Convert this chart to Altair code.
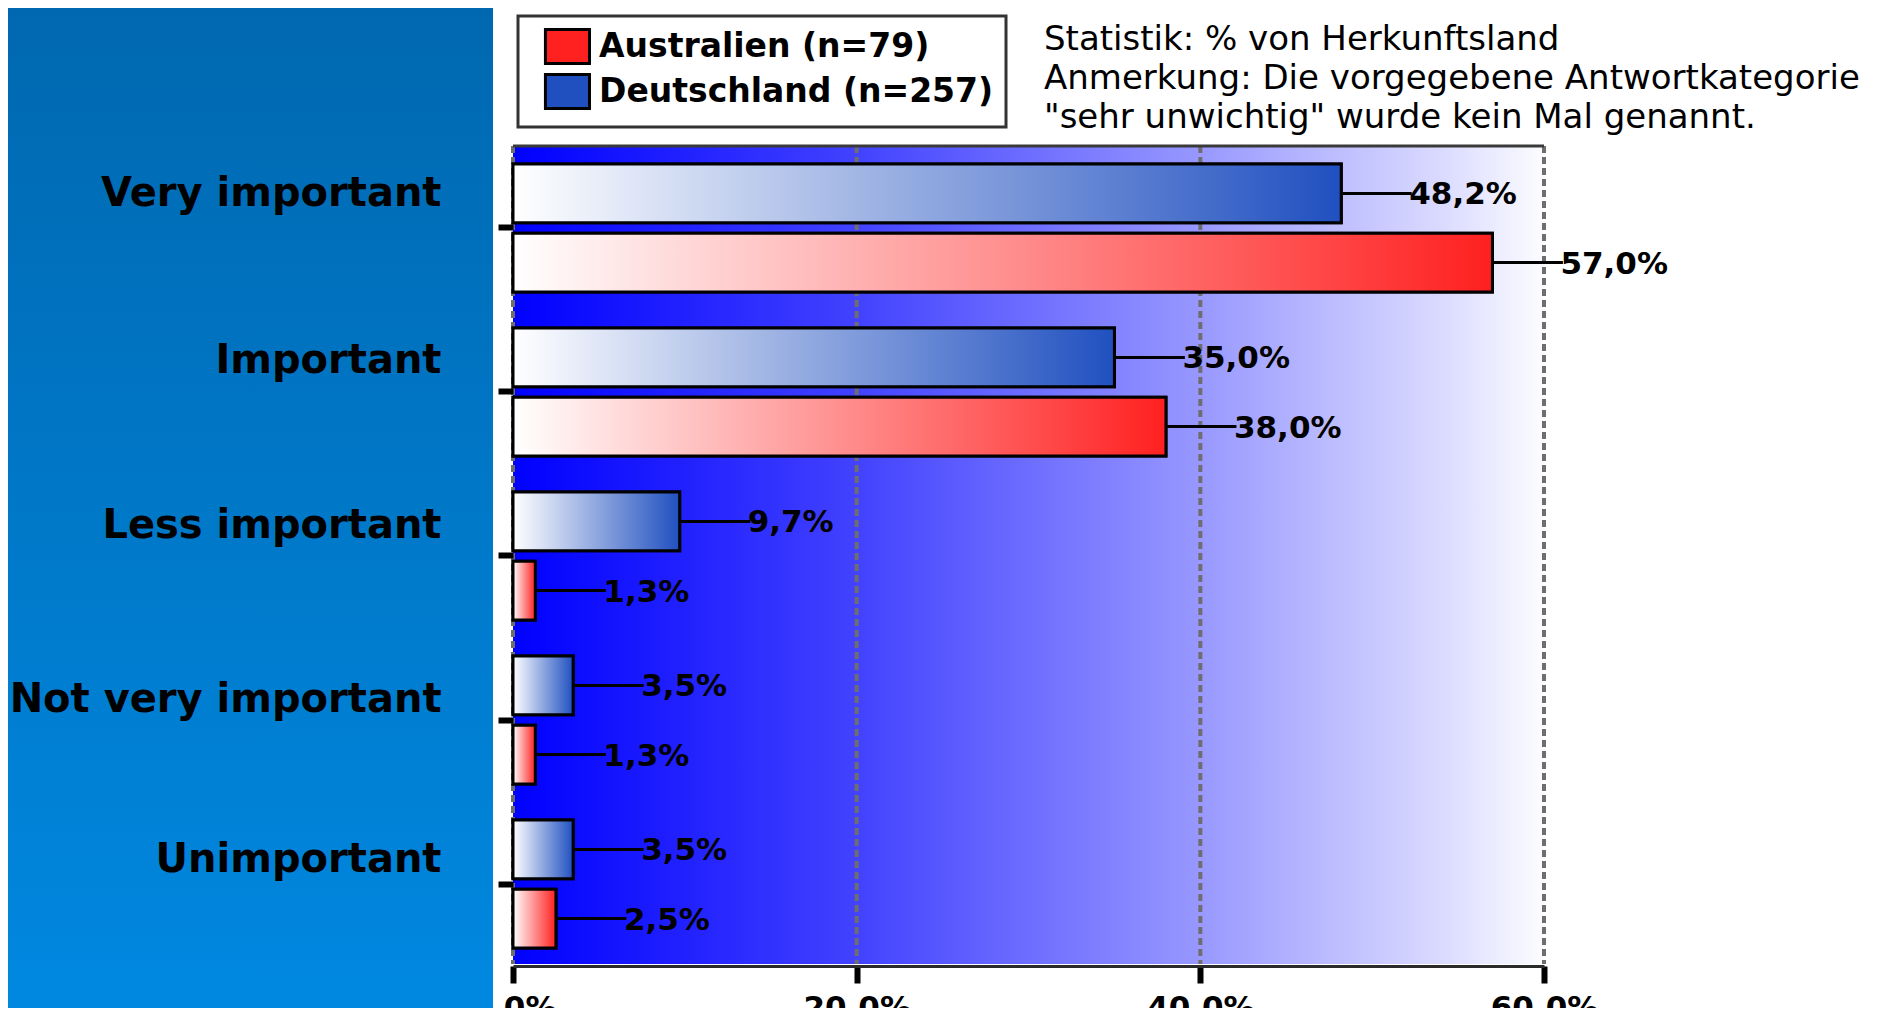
import altair as alt
import pandas as pd

# ---- data ----
categories = ["Very important", "Important", "Less important", "Not very important", "Unimportant"]
deutschland = [48.2, 35.0, 9.7, 3.5, 3.5]
australien = [57.0, 38.0, 1.3, 1.3, 2.5]
series_names = ["Australien (n=79)", "Deutschland (n=257)"]
series_colors = ["#FF2020", "#2050C0"]
x_ticks = [0, 20, 40, 60]
note_lines = [
    "Statistik: % von Herkunftsland",
    "Anmerkung: Die vorgegebene Antwortkategorie",
    "\"sehr unwichtig\" wurde kein Mal genannt.",
]

rows = []
for c, d, a in zip(categories, deutschland, australien):
    rows.append({"category": c, "series": series_names[1], "value": d})
    rows.append({"category": c, "series": series_names[0], "value": a})
df = pd.DataFrame(rows)
ticks_df = pd.DataFrame({"value": x_ticks})
one = alt.InlineData(values=[{"k": 1}])

W, H = 1031, 820
FONT = "DejaVu Sans"

# vertical placement of the category labels relative to their ticks (as in the reference)
label_shift = {"Very important": -34, "Important": -31, "Less important": -30,
               "Not very important": -20, "Unimportant": -24}
label_offset = {
    "condition": [{"test": f"datum.value === '{k}'", "value": v} for k, v in label_shift.items()],
    "value": -30,
}

x_enc = alt.X(
    "value:Q",
    scale=alt.Scale(domain=[0, 60], nice=False, zero=True),
    axis=alt.Axis(values=x_ticks, labelExpr="format(datum.value, '.1f') + '%'", title=None,
                  zindex=0, labelFlush=False),
    title=None,
)
y_enc = alt.Y(
    "category:N",
    sort=categories,
    scale=alt.Scale(paddingInner=0.22, paddingOuter=0.11),
    axis=alt.Axis(title=None, zindex=1, labelOffset=label_offset),
    title=None,
)
yoff = alt.YOffset(
    "series:N",
    sort=[series_names[1], series_names[0]],
    scale=alt.Scale(paddingInner=0.15, paddingOuter=0),
)


def hgrad(stops):
    return alt.LinearGradient(
        gradient="linear",
        stops=[alt.GradientStop(color=c, offset=o) for o, c in stops],
        x1=0, x2=1, y1=0, y2=0,
    )


panel = alt.Chart(one).mark_rect(
    fill=alt.LinearGradient(
        gradient="linear",
        stops=[alt.GradientStop(color="#0068B0", offset=0), alt.GradientStop(color="#0088E0", offset=1)],
        x1=0, x2=0, y1=0, y2=1,
    )
).encode(x=alt.value(-505), x2=alt.value(-20), y=alt.value(-138), y2=alt.value(862))

bg = alt.Chart(one).mark_rect(
    fill=hgrad([(0, "#0000FF"), (0.333, "#4242FF"), (0.667, "#9898FF"), (0.9, "#DADAFF"), (1, "#FCFCFF")])
).encode(x=alt.value(0), x2=alt.value(W), y=alt.value(0), y2=alt.value(H - 2))

grid = alt.Chart(ticks_df).mark_rule(color="#6E6E6E", strokeWidth=4, strokeDash=[7, 4]).encode(
    x=x_enc, y=alt.value(0), y2=alt.value(H - 2)
)

border = alt.Chart(one).mark_rule(color="#3A3A3A", strokeWidth=3).encode(
    x=alt.value(0), x2=alt.value(W), y=alt.value(0)
)

solid = alt.Chart(df).mark_bar(stroke="black", strokeWidth=3).encode(
    x=x_enc, y=y_enc, yOffset=yoff,
    color=alt.Color(
        "series:N",
        scale=alt.Scale(domain=series_names, range=series_colors),
        legend=alt.Legend(
            title=None, orient="none", legendX=5, legendY=-130, padding=12, rowPadding=-2,
            fillColor="white", strokeColor="#333333",
            symbolType="M-0.18,-1H2.41V1H-0.18Z", symbolSize=1156,
            symbolStrokeColor="black", symbolStrokeWidth=3, symbolOpacity=1,
            labelFont=FONT, labelFontWeight="bold", labelFontSize=33, labelColor="black",
            labelOffset=32, labelLimit=1000,
        ),
    ),
)

grad_d = alt.Chart(df).transform_filter(alt.datum.series == series_names[1]).mark_bar(
    fill=hgrad([(0, "#FFFFFF"), (1, series_colors[1])]), stroke="black", strokeWidth=3
).encode(x=x_enc, y=y_enc, yOffset=yoff)

grad_a = alt.Chart(df).transform_filter(alt.datum.series == series_names[0]).mark_bar(
    fill=hgrad([(0, "#FFFFFF"), (1, series_colors[0])]), stroke="black", strokeWidth=3
).encode(x=x_enc, y=y_enc, yOffset=yoff)

leader = alt.Chart(df).transform_calculate(end="datum.value + 4.1").mark_rule(
    color="black", strokeWidth=3
).encode(x=x_enc, x2="end:Q", y=y_enc, yOffset=yoff)

labels = alt.Chart(df).transform_calculate(
    label="replace(format(datum.value, '.1f'), '.', ',') + '%'"
).mark_text(
    align="left", baseline="middle", dx=68, dy=2, font=FONT, fontWeight="bold", fontSize=31, color="black"
).encode(x=x_enc, y=y_enc, yOffset=yoff, text="label:N")

note = alt.Chart(one).mark_text(
    align="left", baseline="top", font=FONT, fontSize=34, lineHeight=39, color="black"
).encode(x=alt.value(531), y=alt.value(-123), text=alt.value(note_lines))

chart = (
    alt.layer(panel, bg, grid, border, solid, grad_d, grad_a, leader, labels, note)
    .properties(
        width=W, height=H,
        autosize=alt.AutoSizeParams(type="none"),
        padding={"left": 505, "top": 138, "right": 329, "bottom": 42},
        background="white",
    )
    .configure_view(stroke=None)
    .configure_axisX(
        domainColor="#2A2A2A", domainWidth=3, tickColor="black", tickWidth=6, tickSize=17,
        labelFont=FONT, labelFontWeight="bold", labelFontSize=31, labelColor="black",
        labelPadding=10, grid=False,
    )
    .configure_axisY(
        domain=False, tickColor="black", tickWidth=6, tickSize=15,
        labelFont=FONT, labelFontWeight="bold", labelFontSize=40, labelColor="black",
        labelPadding=57, labelLimit=1000, grid=False,
    )
    .configure_legend(strokeWidth=3)
)

chart.save("out.html", embed_options={"renderer": "svg", "actions": False})
